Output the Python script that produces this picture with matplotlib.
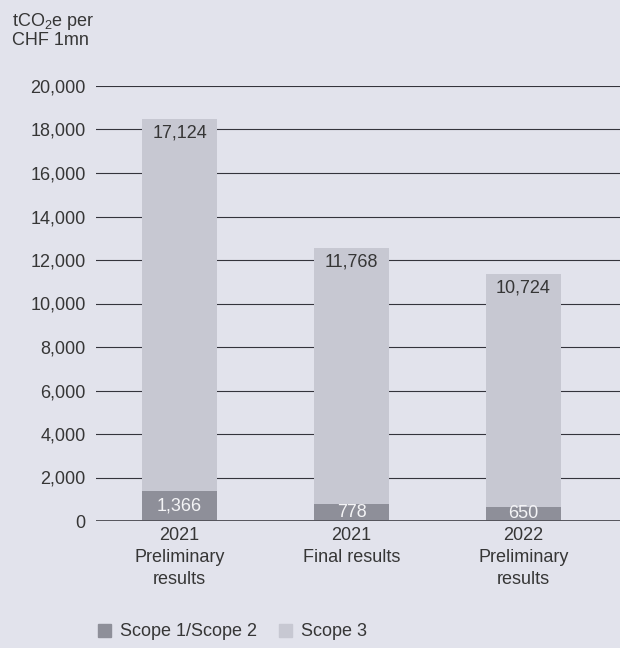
import matplotlib
matplotlib.use("Agg")
import matplotlib.pyplot as plt
from matplotlib.patches import Patch
import numpy as np

plt.rcParams.update({
    "font.family": ["Liberation Sans", "DejaVu Sans"],
    "font.size": 13,
    "mathtext.fontset": "custom",
    "mathtext.rm": "Liberation Sans",
    "text.color": "#363636",
    "xtick.color": "#363636",
    "ytick.color": "#363636",
})

# emissions intensity, tCO2e per CHF 1mn
categories = ["2021\nPreliminary\nresults", "2021\nFinal results", "2022\nPreliminary\nresults"]
scope12 = [1366, 778, 650]
scope3 = [17124, 11768, 10724]
yticks = list(range(0, 20001, 2000))

BG = "#e2e3ec"
DARK = "#8e8f99"
LIGHT = "#c7c8d2"
GRID = "#34343c"

fig = plt.figure(figsize=(6.2, 6.48), dpi=100, facecolor=BG)
ax = fig.add_axes([96/620, 127/648, 524/620, (521-86)/648])
ax.set_facecolor(BG)

x = np.arange(len(categories))
w = 0.436
for t in yticks[1:]:
    ax.axhline(t, color=GRID, lw=0.8, zorder=1)
ax.axhline(0, color="#55555c", lw=1.4, zorder=4)

ax.bar(x, scope12, w, color=DARK, zorder=3)
ax.bar(x, scope3, w, bottom=scope12, color=LIGHT, zorder=3)

for xi, a, b in zip(x, scope12, scope3):
    ax.text(xi, a / 2, f"{a:,}", ha="center", va="center", color="#f4f4f6", zorder=5)
    ax.annotate(f"{b:,}", (xi, a + b), xytext=(0, -10), textcoords="offset points",
                ha="center", va="center", zorder=5)

ax.set_xlim(-(179.5 - 96) / 172, (620 - 179.5) / 172)
ax.set_ylim(0, 20000)
ax.set_yticks(yticks)
ax.set_yticklabels([f"{t:,}" for t in yticks])
ax.set_xticks(x)
ax.set_xticklabels(categories, linespacing=1.42)
ax.tick_params(axis="both", length=0)
ax.tick_params(axis="y", pad=7.5)
ax.tick_params(axis="x", pad=4)
for s in ax.spines.values():
    s.set_visible(False)

fig.text(12/620, 1 - 11/648, "tCO$_\\mathregular{2}$e per\nCHF 1mn", ha="left", va="top",
         linespacing=1.0)

handles = [Patch(color=DARK, label="Scope 1/Scope 2"), Patch(color=LIGHT, label="Scope 3")]
fig.legend(handles=handles, loc="center left", bbox_to_anchor=(98/620, 1 - 632/648),
           ncol=2, frameon=False, handlelength=0.72, handleheight=0.72,
           handletextpad=0.5, columnspacing=1.2, borderaxespad=0, borderpad=0)

fig.savefig("out.png", dpi=100, facecolor=BG)
